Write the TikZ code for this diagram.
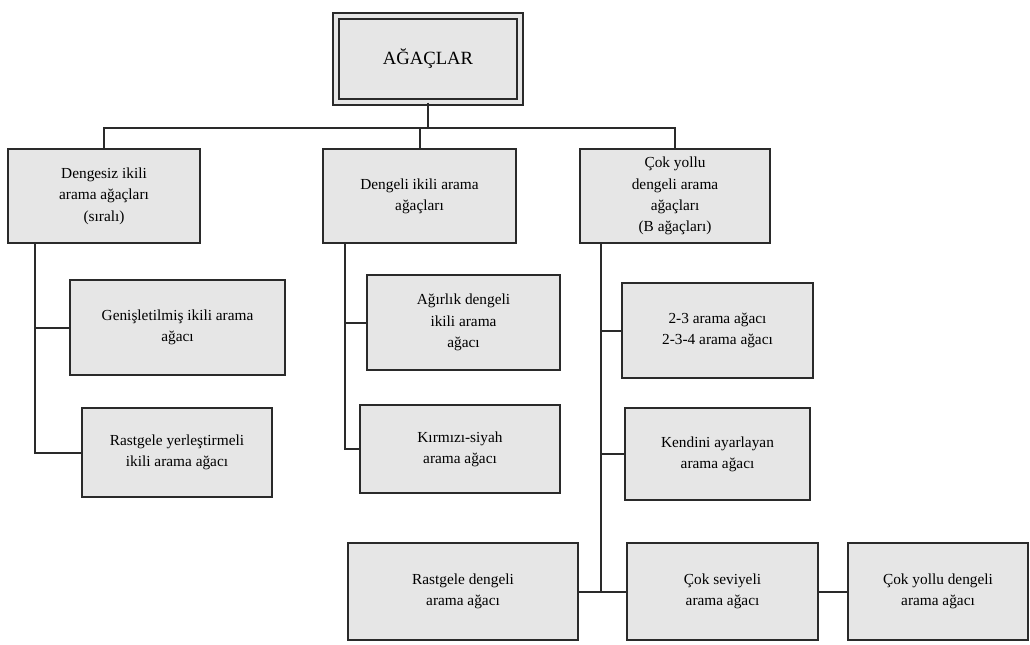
\documentclass[tikz,border=0pt]{standalone}
\usepackage{fontspec}
\setmainfont{Liberation Serif}
\definecolor{boxfill}{HTML}{E6E6E6}
\definecolor{ink}{HTML}{2A2A2A}
\begin{document}
\begin{tikzpicture}[x=0.75pt,y=-0.75pt,
  box/.style={draw=ink,line width=1.6pt,fill=boxfill,rectangle,align=center,
    inner sep=2pt,font=\fontsize{11.5}{16}\selectfont},
  rootbox/.style={box,double=boxfill,double distance=3pt,line width=1.4pt,
    font=\fontsize{14}{16}\selectfont},
  link/.style={draw=ink,line width=1.5pt}]
\useasboundingbox (0,0) rectangle (1030,644);

% root and second level
\node[rootbox,minimum width=138pt,minimum height=64pt] (top) at (428,59) {AĞAÇLAR};
\node[box,minimum width=144pt,minimum height=70pt] (c1) at (104,196)
  {Dengesiz ikili\\arama ağaçları\\(sıralı)};
\node[box,minimum width=145pt,minimum height=70pt] (c2) at (419.5,196)
  {Dengeli ikili arama\\ağaçları};
\node[box,minimum width=142pt,minimum height=70pt] (c3) at (675,196)
  {Çok yollu\\dengeli arama\\ağaçları\\(B ağaçları)};

% leaves
\node[box,minimum width=161pt,minimum height=71pt] (l1) at (177.5,327.5)
  {Genişletilmiş ikili arama\\ağacı};
\node[box,minimum width=142pt,minimum height=67pt] (l2) at (177,452.5)
  {Rastgele yerleştirmeli\\ikili arama ağacı};
\node[box,minimum width=145pt,minimum height=71pt] (m1) at (463.5,322.5)
  {Ağırlık dengeli\\ikili arama\\ağacı};
\node[box,minimum width=150pt,minimum height=66pt] (m2) at (460,449)
  {Kırmızı-siyah\\arama ağacı};
\node[box,minimum width=143pt,minimum height=71pt] (r1) at (717.5,330.5)
  {2-3 arama ağacı\\2-3-4 arama ağacı};
\node[box,minimum width=139pt,minimum height=69pt] (r2) at (717.5,454)
  {Kendini ayarlayan\\arama ağacı};
\node[box,minimum width=172pt,minimum height=73pt] (b1) at (463,591.5)
  {Rastgele dengeli\\arama ağacı};
\node[box,minimum width=143pt,minimum height=73pt] (b2) at (722.5,591.5)
  {Çok seviyeli\\arama ağacı};
\node[box,minimum width=135pt,minimum height=73pt] (b3) at (938,591.5)
  {Çok yollu dengeli\\arama ağacı};

% bus under the root
\coordinate (bus) at (428,128);
\draw[link] (top.south) -- (bus);
\draw[link] (c1.north) |- (bus);
\draw[link] (c2.north) |- (bus);
\draw[link] (c3.north) |- (bus);

% left column
\coordinate (lt) at (35,243);
\draw[link] (lt) |- (l1.west);
\draw[link] (lt) |- (l2.west);

% middle column
\coordinate (mt) at (345,243);
\draw[link] (mt) |- (m1.west);
\draw[link] (mt) |- (m2.west);

% right column
\coordinate (rt) at (601,243);
\draw[link] (rt) |- (r1.west);
\draw[link] (rt) |- (r2.west);
\draw[link] (rt) |- (b1.east);
\draw[link] (rt) |- (b2.west);
\draw[link] (b2.east) -- (b3.west);
\end{tikzpicture}
\end{document}
